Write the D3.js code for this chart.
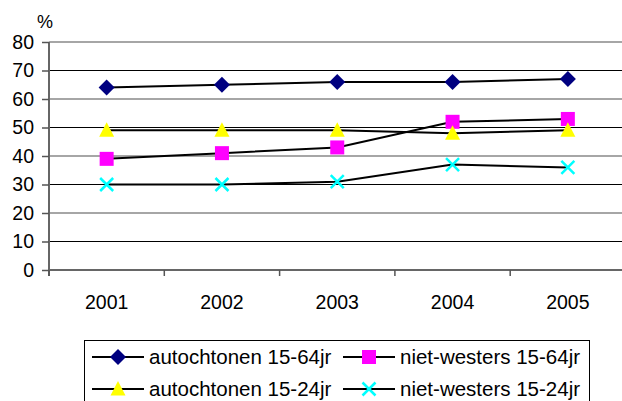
<!DOCTYPE html>
<html>
<head>
<meta charset="utf-8" />
<title>chart</title>
<script src="https://d3js.org/d3.v7.min.js"></script>
<style>
  body { margin: 0; background: #fff; }
  text { font-family: "Liberation Sans", Arial, sans-serif; fill: #000; }
</style>
</head>
<body>
<div id="chart"></div>
<script>
var years = ["2001", "2002", "2003", "2004", "2005"];
var yTicks = [0, 10, 20, 30, 40, 50, 60, 70, 80];
var autochtonen1564 = [64, 65, 66, 66, 67];
var nietWesters1564 = [39, 41, 43, 52, 53];
var autochtonen1524 = [49, 49, 49, 48, 49];
var nietWesters1524 = [30, 30, 31, 37, 36];

var series = [
  { name: "autochtonen 15-64jr", values: autochtonen1564, shape: "diamond", color: "#000080" },
  { name: "niet-westers 15-64jr", values: nietWesters1564, shape: "square", color: "#ff00ff" },
  { name: "autochtonen 15-24jr", values: autochtonen1524, shape: "triangle", color: "#ffff00" },
  { name: "niet-westers 15-24jr", values: nietWesters1524, shape: "cross", color: "#00ffff" }
];

var width = 622, height = 401;
var plotLeft = 49, plotTop = 42, plotW = 576.5, plotH = 228;

var svg = d3.select("#chart").append("svg").attr("width", width).attr("height", height);

var x = d3.scaleBand().domain(years).range([plotLeft, plotLeft + plotW]);
var y = d3.scaleLinear().domain([0, 80]).range([plotTop + plotH, plotTop]);

// rasterlijnen
svg.selectAll(".grid").data(yTicks.filter(function(d){ return d > 0; })).enter().append("line")
  .attr("x1", plotLeft).attr("x2", width)
  .attr("y1", function(d){ return y(d); }).attr("y2", function(d){ return y(d); })
  .attr("stroke", function(d){ return d % 20 === 0 ? "#888" : "#000"; })
  .attr("stroke-width", function(d){ return d % 20 === 0 ? 1.5 : 1; });

// assen
var yAxis = svg.append("g").attr("transform", "translate(" + plotLeft + ",0)")
  .call(d3.axisLeft(y).tickValues(yTicks).tickSize(7).tickPadding(8));
var xAxis = svg.append("g").attr("transform", "translate(0," + (plotTop + plotH) + ")")
  .call(d3.axisBottom(x).tickSize(0).tickPadding(25));
xAxis.selectAll(".tick line").remove();
// scheidingsstreepjes tussen de jaren
xAxis.selectAll(".sep").data(d3.range(years.length + 1)).enter().append("line")
  .attr("x1", function(i){ return plotLeft + i * x.step(); })
  .attr("x2", function(i){ return plotLeft + i * x.step(); })
  .attr("y1", 0).attr("y2", 6).attr("stroke", "#555").attr("stroke-width", 1.5);

[yAxis, xAxis].forEach(function(g){
  g.select(".domain").attr("stroke", "#666").attr("stroke-width", 2);
  g.selectAll(".tick line").attr("stroke", "#555").attr("stroke-width", 1.5);
  g.selectAll("text").attr("font-size", "19.5px").attr("font-family", "Liberation Sans, Arial, sans-serif").attr("fill", "#000");
});
yAxis.select(".domain").attr("d", "M0," + (plotTop + plotH + 6) + "V" + plotTop);
xAxis.select(".domain").attr("d", "M" + plotLeft + ",0H" + width);

svg.append("text").attr("x", 37).attr("y", 28).attr("font-size", "18px").text("%");

function marker(sel, d) {
  if (d.shape === "diamond") {
    sel.append("path").attr("d", "M0,-8L8,0L0,8L-8,0Z").attr("fill", d.color);
  } else if (d.shape === "square") {
    sel.append("rect").attr("x", -7).attr("y", -7).attr("width", 14).attr("height", 14).attr("fill", d.color);
  } else if (d.shape === "triangle") {
    sel.append("path").attr("d", "M0,-8L7.5,6.5L-7.5,6.5Z").attr("fill", d.color);
  } else {
    sel.append("path").attr("d", "M-6.5,-6.5L6.5,6.5M6.5,-6.5L-6.5,6.5")
      .attr("stroke", d.color).attr("stroke-width", 2.5).attr("fill", "none");
  }
}

var line = d3.line()
  .x(function(v, i){ return x(years[i]) + x.bandwidth() / 2; })
  .y(function(v){ return y(v); });

series.forEach(function(s){
  svg.append("path").attr("d", line(s.values)).attr("fill", "none")
    .attr("stroke", "#000").attr("stroke-width", 2);
});
series.forEach(function(s){
  s.values.forEach(function(v, i){
    var g = svg.append("g").attr("transform", "translate(" + (x(years[i]) + x.bandwidth() / 2) + "," + y(v) + ")");
    marker(g, s);
  });
});

// legenda
svg.append("rect").attr("x", 84.5).attr("y", 340.5).attr("width", 505).attr("height", 70)
  .attr("fill", "none").attr("stroke", "#000").attr("stroke-width", 1);
var legendPos = [[92, 357], [343, 357], [92, 389], [343, 389]];
series.forEach(function(s, i){
  var p = legendPos[i];
  var g = svg.append("g").attr("transform", "translate(" + p[0] + "," + p[1] + ")");
  g.append("line").attr("x1", 0).attr("x2", 52).attr("stroke", "#000").attr("stroke-width", 2);
  var m = g.append("g").attr("transform", "translate(26,0)");
  marker(m, s);
  g.append("text").attr("x", 57).attr("y", 7).attr("font-size", "20.5px").text(s.name);
});
</script>
</body>
</html>
